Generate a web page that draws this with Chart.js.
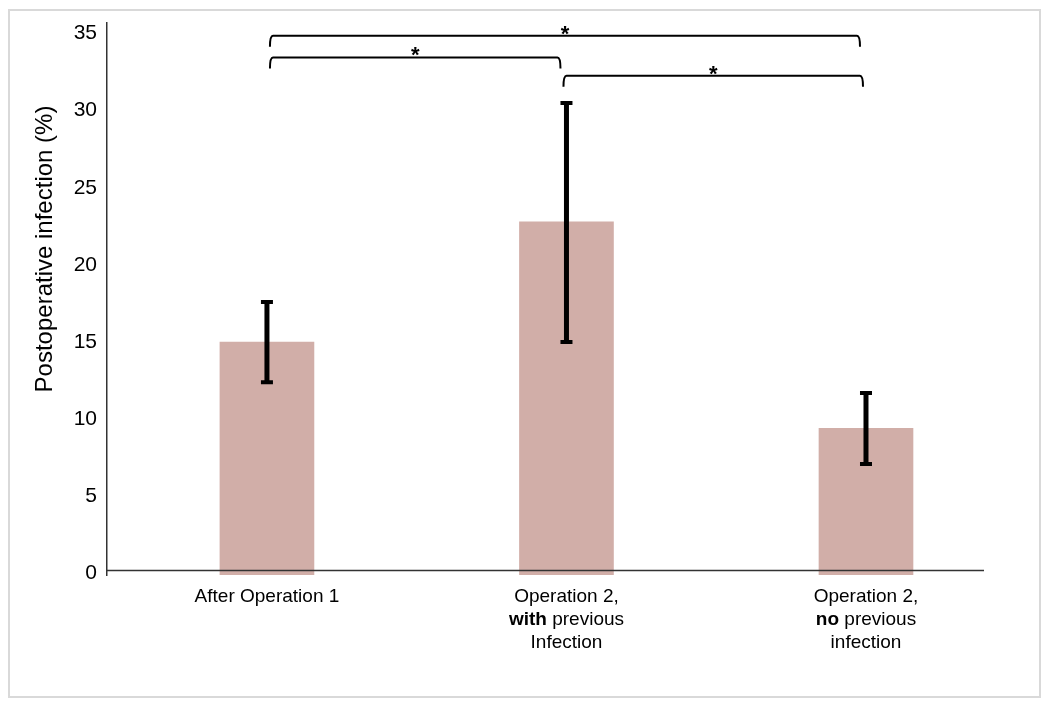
<!DOCTYPE html>
<html>
<head>
<meta charset="utf-8">
<script src="https://cdn.jsdelivr.net/npm/chart.js@4.4.1/dist/chart.umd.min.js"></script>
<style>
  html, body { margin: 0; padding: 0; background: #fff; }
  #wrap { position: relative; width: 1050px; height: 709px; }
</style>
</head>
<body>
<div id="wrap"><canvas id="chart" width="1050" height="709"></canvas></div>
<script>
// data
const categories = [
  ["After Operation 1"],
  ["Operation 2,", "**with** previous", "Infection"],
  ["Operation 2,", "**no** previous", "infection"]
];
const infection = [15.0, 22.8, 9.4];
const errLower = [12.4, 15.0, 7.1];
const errUpper = [17.6, 30.5, 11.7];
const yTicks = [0, 5, 10, 15, 20, 25, 30, 35];
const yTitle = "Postoperative infection (%)";
// significance brackets: from bar, to bar, height (in %), label
const bracketFrom = [0.01, 0.99, 0.01];
const bracketTo = [0.98, 1.99, 1.98];
const bracketY = [33.45, 32.26, 34.85];
const bracketText = ["*", "*", "*"];

const FONT = "'Liberation Sans', Arial, sans-serif";
const barColor = "#d1aea8";

//error bars drawn on top of the bars
const errorBars = {
  id: "errorBars",
  afterDatasetsDraw(chart) {
    const {ctx, scales: {x, y}} = chart;
    ctx.save();
    ctx.strokeStyle = "#000";
    infection.forEach((v, i) => {
      const px = x.getPixelForValue(i);
      const top = y.getPixelForValue(errUpper[i]);
      const bot = y.getPixelForValue(errLower[i]);
      ctx.lineWidth = 5;
      ctx.beginPath();
      ctx.moveTo(px, top);
      ctx.lineTo(px, bot);
      ctx.stroke();
      ctx.lineWidth = 4;
      ctx.beginPath();
      ctx.moveTo(px - 6, top);
      ctx.lineTo(px + 6, top);
      ctx.moveTo(px - 6, bot);
      ctx.lineTo(px + 6, bot);
      ctx.stroke();
    });
    ctx.restore();
  }
};

//brackets, x axis line, labels, title and frame
const extras = {
  id: "extras",
  beforeDraw(chart) {
    const ctx = chart.ctx;
    ctx.save();
    ctx.strokeStyle = "#d9d9d9";
    ctx.lineWidth = 2;
    ctx.strokeRect(9, 10, 1031, 687);
    ctx.restore();
  },
  afterDraw(chart) {
    const {ctx, chartArea, scales: {x, y}} = chart;
    ctx.save();

    // x axis line at zero
    const y0 = y.getPixelForValue(0) - 3;
    ctx.strokeStyle = "#333";
    ctx.lineWidth = 1.5;
    ctx.beginPath();
    ctx.moveTo(chartArea.left, y0);
    ctx.lineTo(chartArea.right, y0);
    ctx.stroke();

    // brackets
    ctx.strokeStyle = "#000";
    ctx.lineWidth = 2;
    ctx.lineJoin = "round";
    ctx.fillStyle = "#000";
    ctx.font = "bold 22px " + FONT;
    ctx.textAlign = "center";
    ctx.textBaseline = "alphabetic";
    bracketY.forEach((v, i) => {
      const x1 = x.getPixelForValue(bracketFrom[i]);
      const x2 = x.getPixelForValue(bracketTo[i]);
      const py = y.getPixelForValue(v);
      ctx.beginPath();
      ctx.moveTo(x1, py + 11);
      ctx.quadraticCurveTo(x1, py, x1 + 3, py);
      ctx.lineTo(x2 - 3, py);
      ctx.quadraticCurveTo(x2, py, x2, py + 11);
      ctx.stroke();
      ctx.fillText(bracketText[i], (x1 + x2) / 2, py + 5);
    });

    // category labels, ** marks bold words
    ctx.fillStyle = "#000";
    ctx.textBaseline = "middle";
    ctx.textAlign = "left";
    categories.forEach((lines, i) => {
      const cx = x.getPixelForValue(i);
      lines.forEach((line, j) => {
        const parts = line.split("**").map((t, k) => ({t, bold: k % 2 === 1})).filter(p => p.t);
        let w = 0;
        parts.forEach(p => {
          ctx.font = (p.bold ? "bold " : "") + "19px " + FONT;
          p.w = ctx.measureText(p.t).width;
          w += p.w;
        });
        let px = cx - w / 2;
        const py = chartArea.bottom + 22 + j * 23;
        parts.forEach(p => {
          ctx.font = (p.bold ? "bold " : "") + "19px " + FONT;
          ctx.fillText(p.t, px, py);
          px += p.w;
        });
      });
    });

    // y title
    ctx.translate(45, 249);
    ctx.rotate(-Math.PI / 2);
    ctx.font = "24px " + FONT;
    ctx.textAlign = "center";
    ctx.fillText(yTitle, 0, 0);
    ctx.restore();
  }
};

const yMin = -0.1;
new Chart(document.getElementById("chart"), {
  type: "bar",
  plugins: [errorBars, extras],
  data: {
    datasets: [{
      data: infection.map((v, i) => ({x: i, y: v})),
      backgroundColor: barColor,
      borderWidth: 0,
      barThickness: 94,
      base: yMin
    }]
  },
  options: {
    responsive: false,
    animation: false,
    layout: { padding: { left: 0, top: 23, right: 66, bottom: 134 } },
    plugins: { legend: { display: false }, tooltip: { enabled: false } },
    scales: {
      x: {
        type: "linear",
        display: false,
        offset: false,
        grid: { offset: false },
        min: -0.534,
        max: 2.394
      },
      y: {
        min: yMin,
        max: 35.68,
        afterBuildTicks: (scale) => { scale.ticks = yTicks.map(v => ({value: v})); },
        afterFit: (scale) => { scale.width = 107; },
        grid: { display: false, drawTicks: false },
        border: { display: true, color: "#333", width: 1.5 },
        ticks: {
          padding: 10,
          color: "#000",
          font: { family: FONT, size: 21 }
        }
      }
    }
  }
});
</script>
</body>
</html>
